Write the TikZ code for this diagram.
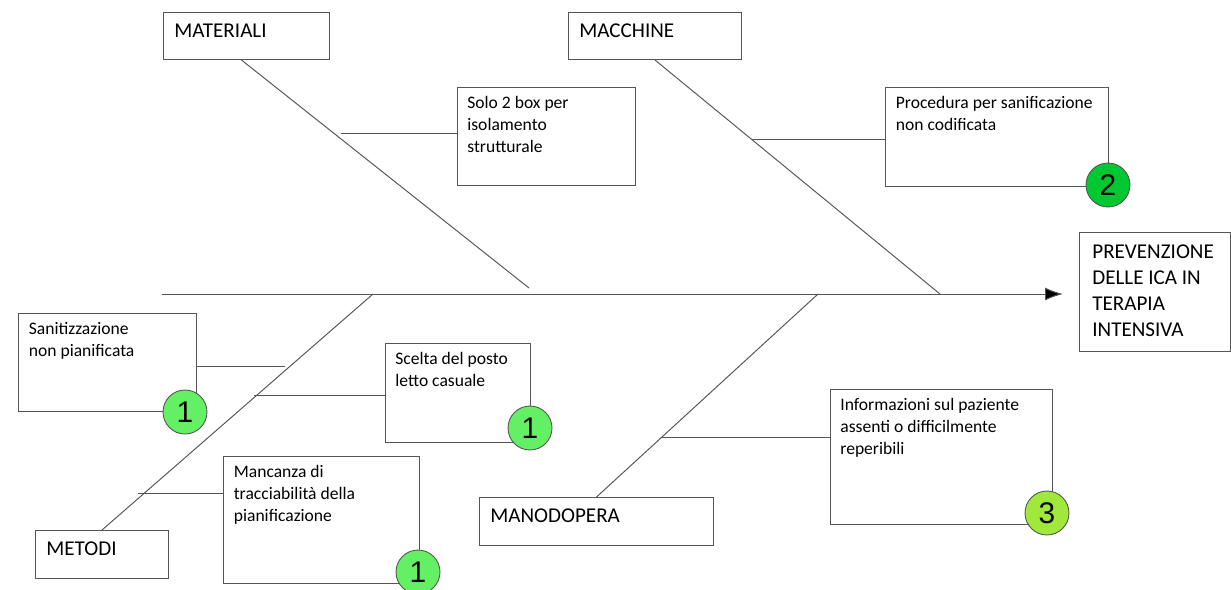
\documentclass[tikz,border=0pt]{standalone}
\usepackage{fontspec}
\setmainfont{Carlito}
\newfontfamily\numfont{Liberation Sans}
\usepackage{xcolor}
\usepackage{tikz}
\usetikzlibrary{positioning, arrows.meta}
\definecolor{lowrisk}{RGB}{100,240,100}
\definecolor{midrisk}{RGB}{0,200,50}
\definecolor{highrisk}{RGB}{160,232,60}
\definecolor{linegray}{RGB}{85,85,85}

\begin{document}
\begin{tikzpicture}[x=0.02cm, y=-0.02cm]

  \tikzstyle{frame}=[draw=linegray, line width=0.6pt, anchor=north west, inner sep=0]
  \tikzstyle{category}=[font=\fontsize{12}{14.8}\selectfont, inner sep=0, align=left]
  \tikzstyle{cause}=[font=\fontsize{10}{12.5}\selectfont, inner sep=0, align=left]
  \tikzstyle{bone}=[draw=linegray, line width=0.55pt]
  \tikzstyle{score}=[circle, draw=linegray, line width=0.5pt, inner sep=0, minimum size=0.88cm, font=\numfont\fontsize{17}{17}\selectfont]

  \useasboundingbox (0,0) rectangle (1231,589);

  \node [frame, minimum width=3.32cm, minimum height=0.94cm] (materiali) at (163,12) {};
  \node [category, below right=0.23cm and 0.22cm of materiali.north west] (materiali-txt) {MATERIALI};
  \node [frame, minimum width=3.46cm, minimum height=0.94cm] (macchine) at (568,12) {};
  \node [category, below right=0.23cm and 0.22cm of macchine.north west] (macchine-txt) {MACCHINE};
  \node [frame, minimum width=2.66cm, minimum height=0.96cm] (metodi) at (35,530) {};
  \node [category, below right=0.23cm and 0.22cm of metodi.north west] (metodi-txt) {METODI};
  \node [frame, minimum width=4.68cm, minimum height=0.96cm] (manodopera) at (479,497) {};
  \node [category, below right=0.23cm and 0.22cm of manodopera.north west] (manodopera-txt) {MANODOPERA};

  \node [frame, minimum width=3.02cm, minimum height=2.38cm] (head) at (1079,232) {};
  \node [category, below right=0.25cm and 0.26cm of head.north west] (head-txt) {PREVENZIONE\\DELLE ICA IN\\TERAPIA\\INTENSIVA};

  \node [frame, minimum width=3.56cm, minimum height=1.96cm] (solo) at (457,87) {};
  \node [cause, below right=0.18cm and 0.2cm of solo.north west] (solo-txt) {Solo 2 box per\\isolamento\\strutturale};
  \node [frame, minimum width=4.46cm, minimum height=1.98cm] (procedura) at (885,87) {};
  \node [cause, below right=0.18cm and 0.21cm of procedura.north west] (procedura-txt) {Procedura per sanificazione\\non codificata};
  \node [frame, minimum width=3.56cm, minimum height=1.96cm] (sanit) at (18,313) {};
  \node [cause, below right=0.18cm and 0.21cm of sanit.north west] (sanit-txt) {Sanitizzazione\\non pianificata};
  \node [frame, minimum width=2.90cm, minimum height=1.98cm] (scelta) at (385,343) {};
  \node [cause, below right=0.18cm and 0.2cm of scelta.north west] (scelta-txt) {Scelta del posto\\letto casuale};
  \node [frame, minimum width=3.92cm, minimum height=2.54cm] (mancanza) at (223,456) {};
  \node [cause, below right=0.18cm and 0.21cm of mancanza.north west] (mancanza-txt) {Mancanza di\\tracciabilità della\\pianificazione};
  \node [frame, minimum width=4.44cm, minimum height=2.70cm] (info) at (830,389) {};
  \node [cause, below right=0.18cm and 0.2cm of info.north west] (info-txt) {Informazioni sul paziente\\assenti o difficilmente\\reperibili};

  \coordinate (tail) at (162,294);
  \coordinate (mat-end) at (529,288);
  \coordinate (mac-end) at (940,294);
  \coordinate (met-end) at (373,294);
  \coordinate (man-end) at (818,294);
  \coordinate (solo-in) at (341,133);
  \coordinate (proc-in) at (752,139);
  \coordinate (sanit-in) at (285,366);
  \coordinate (scelta-in) at (254,395);
  \coordinate (manc-in) at (138,493);
  \coordinate (info-in) at (662,437);

  \draw [bone, -{Latex[length=0.36cm, width=0.26cm, fill=black]}, shorten >=0.32cm] (tail) -- (tail -| head.west);
  \draw [bone] ([xshift=-0.1cm]materiali.south) -- (mat-end);
  \draw [bone] (macchine.south) -- (mac-end);
  \draw [bone] (metodi.north) -- (met-end);
  \draw [bone] (manodopera.north) -- (man-end);

  \draw [bone] (solo-in) -- (solo-in -| solo.west);
  \draw [bone] (proc-in) -- (proc-in -| procedura.west);
  \draw [bone] (sanit.east |- sanit-in) -- (sanit-in);
  \draw [bone] (scelta-in) -- (scelta-in -| scelta.west);
  \draw [bone] (manc-in) -- (manc-in -| mancanza.west);
  \draw [bone] (info-in) -- (info-in -| info.west);

  \node [score, fill=lowrisk] (sanit-score) at (185,412) {1};
  \node [score, fill=lowrisk] (scelta-score) at (530,428) {1};
  \node [score, fill=lowrisk] (mancanza-score) at (418,572) {1};
  \node [score, fill=midrisk] (procedura-score) at (1108,185) {2};
  \node [score, fill=highrisk] (info-score) at (1047,513) {3};
\end{tikzpicture}
\end{document}
